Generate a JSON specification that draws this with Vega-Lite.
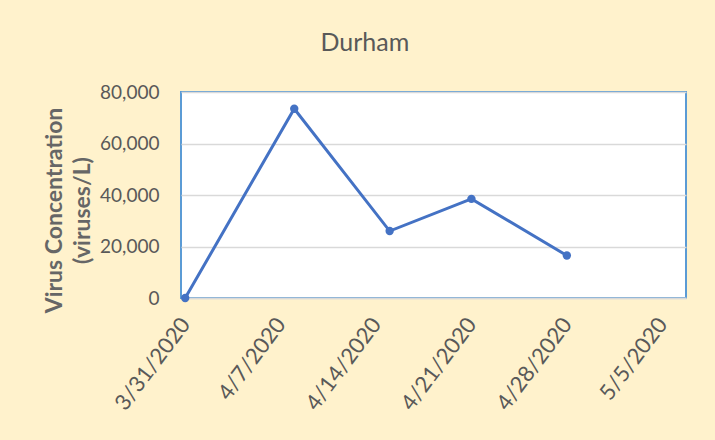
{
  "$schema": "https://vega.github.io/schema/vega-lite/v6.json",
  "autosize": "none",
  "width": 505,
  "height": 206,
  "padding": {"left": 181, "top": 92, "right": 29, "bottom": 142},
  "background": "#fff2cc",
  "title": {"text": "Durham", "fontSize": 25, "font": "Lato", "fontWeight": "normal", "color": "#595959", "anchor": "middle", "frame": "bounds", "offset": 27},
  "data": {"values": [
    {"date": "2020-03-31", "conc": 0},
    {"date": "2020-04-08", "conc": 73500},
    {"date": "2020-04-15", "conc": 26000},
    {"date": "2020-04-21", "conc": 38500},
    {"date": "2020-04-28", "conc": 16500}
  ]},
  "encoding": {
    "x": {
      "field": "date", "type": "temporal",
      "scale": {"type": "utc", "domain": [
        {"year": 2020, "month": 3, "date": 30, "hours": 16, "minutes": 36, "utc": true},
        {"year": 2020, "month": 5, "date": 6, "hours": 17, "minutes": 48, "utc": true}
      ]},
      "axis": {
        "values": [
          {"year": 2020, "month": 3, "date": 31, "utc": true},
          {"year": 2020, "month": 4, "date": 7, "utc": true},
          {"year": 2020, "month": 4, "date": 14, "utc": true},
          {"year": 2020, "month": 4, "date": 21, "utc": true},
          {"year": 2020, "month": 4, "date": 28, "utc": true},
          {"year": 2020, "month": 5, "date": 5, "utc": true}
        ],
        "format": "%-m/%-d/%Y",
        "labelAngle": -53,
        "grid": false,
        "ticks": false,
        "domainColor": "#d9d9d9",
        "domainWidth": 1.5,
        "title": null,
        "labelFont": "Lato",
        "labelFontSize": 22,
        "labelColor": "#595959",
        "labelPadding": 22
      }
    },
    "y": {
      "field": "conc", "type": "quantitative",
      "scale": {"domain": [0, 80000], "nice": false},
      "axis": {
        "values": [0, 20000, 40000, 60000, 80000],
        "format": ",d",
        "grid": true,
        "gridColor": "#d9d9d9",
        "gridWidth": 1.5,
        "domain": false,
        "ticks": false,
        "labelFont": "Lato",
        "labelFontSize": 19,
        "labelColor": "#595959",
        "labelPadding": 22,
        "title": ["Virus Concentration", "(viruses/L)"],
        "titleFont": "Lato",
        "titleFontSize": 23,
        "titleFontWeight": "bold",
        "titleColor": "#666666",
        "titleLineHeight": 28,
        "titlePadding": 5,
        "titleY": 118
      }
    }
  },
  "layer": [
    {"mark": {"type": "line", "color": "#4472c4", "strokeWidth": 3}},
    {"mark": {"type": "point", "filled": true, "color": "#4472c4", "size": 70, "opacity": 1}}
  ],
  "config": {"view": {"fill": "white", "stroke": "#5b9bd5", "strokeWidth": 2}}
}
